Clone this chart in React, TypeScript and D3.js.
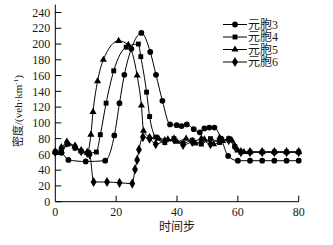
import React from "react";
import * as d3 from "d3";

const seriesNames = ["元胞3", "元胞4", "元胞5", "元胞6"];

const t3 = [0, 2, 4.3, 10, 16.4, 19.4, 21.1, 22.7, 25, 28.3, 31.2, 33.1, 35.2, 37.7, 39.9, 41.5, 43.2, 45.5, 47.5, 49, 50.6, 52.3, 54.5, 56.8, 60, 64, 68, 72, 76, 80];
const v3 = [63, 62, 53, 51, 52, 84, 125, 161, 194, 214, 190, 161, 128, 98, 97, 96, 98, 92, 88, 93, 94, 94, 80, 58, 52, 52, 52, 52, 52, 52];

const t4 = [0, 2, 4, 6.5, 8.5, 11, 13.5, 14.8, 16.7, 19.2, 23.3, 27.3, 28.1, 30, 31, 33, 36, 39, 42, 45, 48, 51, 54, 57, 59, 61, 64, 68, 72, 76, 80];
const v4 = [63, 63, 73, 68, 64, 62, 63, 85, 125, 166, 196, 200, 184, 139, 108, 82, 75, 80, 74, 78, 73, 80, 75, 80, 70, 63, 63, 63, 63, 63, 63];

const t5 = [0, 2, 4, 6.5, 8.5, 10.5, 11.7, 12.4, 13.9, 15.8, 20.8, 24, 26.9, 28.3, 29, 31, 34, 37, 40, 43, 46, 49, 52, 55, 58, 60, 62, 64, 68, 72, 76, 80];
const v5 = [63, 64, 74, 70, 65, 62, 85, 114, 153, 180, 204, 199, 160, 122, 90, 82, 80, 79, 76, 80, 74, 79, 73, 77, 78, 65, 63, 63, 63, 63, 63, 63];

const t6 = [0, 2, 3.8, 6.5, 8.5, 10.5, 11.3, 12.6, 17, 21.1, 25.3, 26.2, 26.9, 27.5, 28.8, 31, 33, 36, 39, 42, 45, 48, 51, 54, 57, 59, 61, 64, 68, 72, 76, 80];
const v6 = [63, 68, 75, 70, 64, 62, 60, 25, 25, 24, 23, 41, 53, 66, 82, 80, 73, 77, 79, 72, 76, 79, 73, 80, 78, 70, 63, 63, 63, 63, 63, 63];

const xTicks = [0, 20, 40, 60, 80];
const yTicks = [0, 20, 40, 60, 80, 100, 120, 140, 160, 180, 200, 220, 240];

const seriesT = [t3, t4, t5, t6];
const seriesV = [v3, v4, v5, v6];

const symbols = [d3.symbolCircle, d3.symbolSquare, d3.symbolTriangle, d3.symbolDiamond];
const symSizes = [26, 24, 22, 30];

export default function App() {
  const W = 333, H = 245;
  const x = d3.scaleLinear().domain([0, 80]).range([55.3, 298.7]);
  const y = d3.scaleLinear().domain([0, 240]).range([201.7, 12.5]);
  const line = d3
    .line<[number, number]>()
    .x((d) => x(d[0]))
    .y((d) => y(d[1]))
    .curve(d3.curveMonotoneX);

  const font = '"Liberation Serif", "Noto Sans CJK SC", serif';
  const txt = "#1a1a1a";

  const legendY = [24.5, 37, 49.5, 62];

  return (
    <svg
      width={W}
      height={H}
      style={{ position: "absolute", left: 0, top: 0, background: "#fff" }}
      fontFamily={font}
    >
      {/* axes */}
      <line x1={x(0)} x2={x(0)} y1={y(0)} y2={y(250)} stroke="#000" strokeWidth={1} />
      <line x1={x(0)} x2={x(80)} y1={y(0)} y2={y(0)} stroke="#000" strokeWidth={1} />
      {yTicks.map((v) => (
        <g key={"y" + v}>
          <line x1={x(0)} x2={x(0) + 6} y1={y(v)} y2={y(v)} stroke="#000" />
          <text x={x(0) - 5} y={y(v)} dy="0.35em" textAnchor="end" fontSize={12} fill={txt}>
            {v}
          </text>
        </g>
      ))}
      {xTicks.map((v) => (
        <g key={"x" + v}>
          {v > 0 && <line x1={x(v)} x2={x(v)} y1={y(0)} y2={y(0) - 6} stroke="#000" />}
          <text x={x(v)} y={216} textAnchor="middle" fontSize={12} fill={txt}>
            {v}
          </text>
        </g>
      ))}
      <text x={x(40)} y={231} textAnchor="middle" fontSize={12} fill={txt}>
        时间步
      </text>
      <text
        transform={`translate(22, ${y(115)}) rotate(-90)`}
        textAnchor="middle"
        fontSize={11}
        fill={txt}
      >
        密度/(veh·km<tspan dy="-4" fontSize={7}>-1</tspan><tspan dy="4">)</tspan>
      </text>

      {/* series */}
      {seriesT.map((ts, i) => {
        const pts: [number, number][] = ts.map((t, j) => [t, seriesV[i][j]]);
        const sym = d3.symbol().type(symbols[i]).size(symSizes[i]);
        return (
          <g key={"s" + i}>
            <path d={line(pts) || ""} fill="none" stroke="#000" strokeWidth={1} />
            {pts.map((p, j) => (
              <path
                key={j}
                d={sym() || ""}
                transform={`translate(${x(p[0])},${y(p[1])})`}
                fill="#000"
              />
            ))}
          </g>
        );
      })}

      {/* legend */}
      {seriesNames.map((n, i) => {
        const sym = d3.symbol().type(symbols[i]).size(symSizes[i]);
        return (
          <g key={"l" + i}>
            <line x1={223} x2={247} y1={legendY[i]} y2={legendY[i]} stroke="#000" />
            <path d={sym() || ""} transform={`translate(235,${legendY[i]})`} fill="#000" />
            <text x={248} y={legendY[i]} dy="0.35em" fontSize={12} fill={txt}>
              {n}
            </text>
          </g>
        );
      })}
    </svg>
  );
}
